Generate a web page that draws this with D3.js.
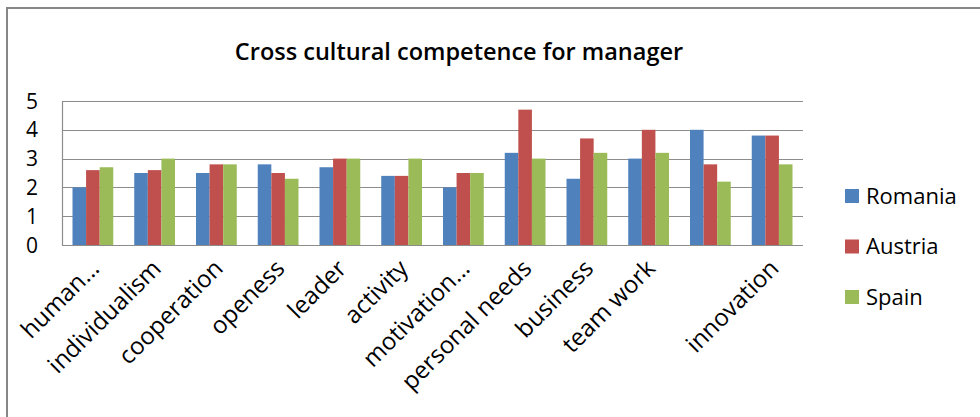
<!DOCTYPE html>
<html lang="en">
  <head>
    <meta charset="UTF-8" />
    <title>Cross cultural competence for manager</title>
    <style>
      body {
        margin: 0;
        background: #fff;
        font-family: "Open Sans", Lato, sans-serif;
      }
      svg {
        display: block;
      }
      .tick-label {
        font-size: 21px;
        fill: #000;
      }
      .legend-label {
        font-size: 22px;
        fill: #000;
      }
      .cat-label {
        font-size: 24px;
        fill: #000;
      }
    </style>
  </head>
  <body>
    <svg width="980" height="417"></svg>
    <script src="https://d3js.org/d3.v7.min.js"></script>
    <script>
      const categories = [
        "human...",
        "individualism",
        "cooperation",
        "openess",
        "leader",
        "activity",
        "motivation...",
        "personal needs",
        "business",
        "team work",
        "",
        "innovation",
      ];
      const seriesNames = ["Romania", "Austria", "Spain"];
      const romania = [2.0, 2.5, 2.5, 2.8, 2.7, 2.4, 2.0, 3.2, 2.3, 3.0, 4.0, 3.8];
      const austria = [2.6, 2.6, 2.8, 2.5, 3.0, 2.4, 2.5, 4.7, 3.7, 4.0, 2.8, 3.8];
      const spain = [2.7, 3.0, 2.8, 2.3, 3.0, 3.0, 2.5, 3.0, 3.2, 3.2, 2.2, 2.8];
      const yTicks = [0, 1, 2, 3, 4, 5];

      const colors = ["#4F81BD", "#C0504D", "#9BBB59"];
      const seriesValues = [romania, austria, spain];

      const svg = d3.select("svg");

      // outer chart frame (right and bottom edges are outside the picture)
      svg
        .append("rect")
        .attr("x", 7)
        .attr("y", 8)
        .attr("width", 1000)
        .attr("height", 500)
        .attr("fill", "#fff")
        .attr("stroke", "#878787")
        .attr("stroke-width", 2);

      const plot = { left: 62, right: 803, top: 101, bottom: 245 };

      const x = d3
        .scaleBand()
        .domain(d3.range(categories.length))
        .range([plot.left, plot.right])
        .paddingInner(0.34)
        .paddingOuter(0.17);

      const xs = d3
        .scaleBand()
        .domain(d3.range(seriesNames.length))
        .range([0, x.bandwidth()]);

      const y = d3.scaleLinear().domain([0, 5]).range([plot.bottom, plot.top]);

      // gridlines
      svg
        .append("g")
        .selectAll("line")
        .data(yTicks)
        .join("line")
        .attr("x1", plot.left)
        .attr("x2", plot.right)
        .attr("y1", (d) => Math.round(y(d)) + 0.5)
        .attr("y2", (d) => Math.round(y(d)) + 0.5)
        .attr("stroke", "#8c8c8c")
        .attr("stroke-width", 1.2);

      // y axis line
      svg
        .append("line")
        .attr("x1", plot.left + 0.5)
        .attr("x2", plot.left + 0.5)
        .attr("y1", plot.top)
        .attr("y2", plot.bottom)
        .attr("stroke", "#8c8c8c")
        .attr("stroke-width", 1.2);

      // bars
      const groups = svg
        .append("g")
        .selectAll("g")
        .data(categories.map((c, i) => i))
        .join("g")
        .attr("transform", (i) => `translate(${x(i)},0)`);

      groups
        .selectAll("rect")
        .data((i) => seriesValues.map((vals, s) => ({ s, v: vals[i] })))
        .join("rect")
        .attr("x", (d) => xs(d.s))
        .attr("width", xs.bandwidth())
        .attr("y", (d) => y(d.v))
        .attr("height", (d) => y(0) - y(d.v))
        .attr("fill", (d) => colors[d.s]);

      // y tick labels
      svg
        .append("g")
        .selectAll("text")
        .data(yTicks)
        .join("text")
        .attr("class", "tick-label")
        .attr("x", 38)
        .attr("y", (d) => y(d))
        .attr("dy", "0.36em")
        .attr("text-anchor", "end")
        .text((d) => d);

      // x tick labels, rotated
      svg
        .append("g")
        .selectAll("text")
        .data(categories)
        .join("text")
        .attr("class", "cat-label")
        .attr("text-anchor", "end")
        .attr(
          "transform",
          (d, i) =>
            `translate(${x(i) + x.bandwidth() / 2 + 2},${plot.bottom + 19}) rotate(-45)`
        )
        .attr("dy", "0.35em")
        .text((d) => d);

      // title
      svg
        .append("text")
        .attr("x", 459)
        .attr("y", 60)
        .attr("text-anchor", "middle")
        .attr("font-size", 23.5)
        .attr("font-weight", 600)
        .text("Cross cultural competence for manager");

      // legend
      const legend = svg
        .append("g")
        .selectAll("g")
        .data(seriesNames)
        .join("g")
        .attr("transform", (d, i) => `translate(845,${189 + i * 50.5})`);

      legend
        .append("rect")
        .attr("width", 14)
        .attr("height", 14)
        .attr("fill", (d, i) => colors[i]);

      legend
        .append("text")
        .attr("class", "legend-label")
        .attr("x", 21)
        .attr("y", 7)
        .attr("dy", "0.36em")
        .text((d) => d);
    </script>
  </body>
</html>
